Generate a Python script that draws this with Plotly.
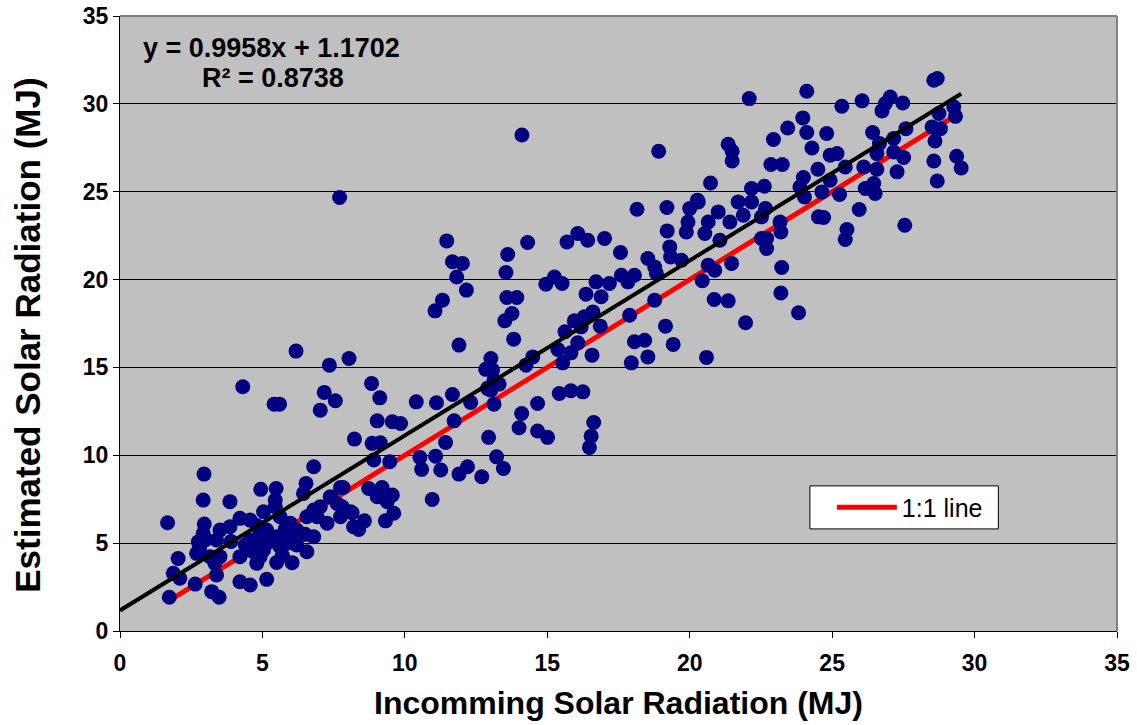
import plotly.graph_objects as go

# Observed (incoming) vs estimated solar radiation, MJ
incoming = [
    6.80, 2.95, 2.92, 3.86, 1.67, 4.94, 5.48, 6.53, 7.74, 5.45, 5.04, 4.21, 4.57, 2.96, 3.51, 3.86,
    2.92, 2.75, 2.69, 2.04, 1.87, 2.10, 1.73, 2.64, 3.22, 3.48, 3.39, 3.33, 3.51, 4.21, 4.57, 5.15,
    6.04, 6.56, 4.21, 4.80, 5.04, 5.62, 5.98, 6.21, 5.15, 4.57, 5.51, 5.86, 6.80, 6.56, 6.92, 7.27,
    7.74, 8.20, 8.09, 7.62, 7.38, 7.03, 6.44, 6.80, 3.39, 3.16, 5.62, 4.45, 4.92,
    4.90, 5.30, 5.70, 6.20, 5.00, 4.70, 6.50, 5.80, 4.40, 3.90, 5.50, 6.00, 4.80, 3.00, 2.80, 5.45,
    8.83, 9.12, 7.56, 10.40, 11.11, 11.67, 12.31, 12.90, 13.25, 13.13, 13.08, 14.66, 15.42, 14.10, 14.01, 14.66,
    15.01, 12.94, 11.73, 11.43, 9.03, 9.56, 9.85, 8.23, 8.85, 9.14, 8.91, 9.47, 10.53, 11.08, 10.59, 11.26,
    11.90, 12.20, 12.70, 13.22, 13.46, 10.96, 7.83, 8.73, 9.20, 9.56, 9.03, 9.38, 9.61, 9.32, 8.15, 8.58,
    8.38, 7.80,
    6.18, 7.35, 8.04, 4.31, 5.41, 5.60, 7.17, 7.03, 7.71,
    11.47, 11.67, 12.02, 11.82, 12.16, 11.32, 11.06, 11.90, 14.31, 13.61, 13.55, 13.58, 13.93, 13.76, 13.51, 13.82,
    15.69, 16.07, 16.42, 17.01, 17.57, 14.95, 15.25, 15.52, 16.36, 16.71, 17.18, 16.89, 17.60, 17.83, 18.06, 17.89,
    15.95, 16.30, 16.60, 16.86, 15.62, 16.19, 16.07, 15.37, 15.83, 15.54, 16.57, 18.06, 17.95, 13.02, 12.84, 14.49,
    14.25, 13.13, 13.02, 13.31, 15.83, 16.25, 16.63,
    18.15, 19.20, 20.00, 20.30, 21.00, 21.70, 19.94, 20.65, 21.41, 21.88, 22.66, 23.17, 19.21, 19.88, 20.53, 21.06,
    19.30, 19.33, 19.71, 18.53, 18.77, 18.83, 22.70, 22.70, 23.20, 21.47, 20.65, 20.88, 20.44, 23.23, 23.20, 23.82,
    20.86, 21.35, 21.96, 20.59, 18.77, 19.15, 19.42, 18.42, 18.53, 16.54, 16.48, 24.52, 22.17,
    24.11, 25.34, 26.05, 27.04, 26.87, 26.75, 27.48, 28.57, 28.69, 23.97, 23.44, 22.94, 24.11, 24.81, 24.29, 24.93,
    25.17, 22.85, 23.25, 24.50, 25.46, 22.62, 23.99, 23.87, 24.03, 24.64, 24.93, 25.26, 26.42, 26.66, 27.16, 27.59,
    26.57, 27.16, 27.51, 26.11, 26.57, 27.28, 26.16, 26.46, 26.51, 28.51, 28.80, 28.61, 28.57, 28.69, 28.75, 29.27,
    29.33, 29.37, 29.53, 24.70, 25.95, 25.52, 25.46, 27.55, 22.52,
    22.09, 18.91, 21.35, 21.49, 21.49, 20.73, 22.17, 20.27, 22.52, 14.11,
]
estimated = [
    9.35, 8.93, 7.45, 7.36, 6.16, 8.06, 8.11, 8.40, 8.17, 7.07, 6.79, 6.41, 6.31, 6.09, 5.75, 5.93,
    5.56, 5.08, 4.42, 4.13, 3.28, 3.00, 1.92, 2.67, 2.24, 1.92, 3.19, 3.85, 4.23, 2.80, 2.62, 2.94,
    3.89, 4.51, 4.23, 3.85, 4.61, 4.80, 6.13, 5.75, 5.75, 5.18, 5.36, 4.99, 5.36, 6.50, 6.50, 6.13,
    6.50, 5.93, 6.79, 7.26, 7.64, 7.07, 7.83, 6.88, 5.18, 4.23, 6.50, 4.61, 4.23,
    5.50, 5.10, 4.30, 4.90, 5.00, 4.50, 5.50, 5.80, 4.90, 5.10, 3.90, 5.30, 6.00, 5.20, 4.80, 7.45,
    14.09, 13.27, 13.10, 13.04, 12.99, 13.46, 13.01, 13.81, 14.09, 12.91, 14.85, 12.95, 13.52, 12.38, 11.57, 11.38,
    11.02, 11.02, 11.96, 10.73, 11.96, 11.91, 11.81, 10.92, 10.68, 10.71, 9.73, 9.63, 9.88, 9.95, 9.20, 9.16,
    8.93, 9.35, 8.78, 9.91, 9.25, 7.49, 8.17, 8.11, 8.17, 7.74, 7.64, 7.36, 6.70, 6.27, 6.73, 6.27,
    5.78, 7.07,
    15.93, 15.13, 15.51, 13.90, 12.91, 12.91, 13.58, 12.57, 24.67,
    22.20, 21.01, 20.92, 20.15, 19.40, 18.83, 18.22, 16.27, 22.11, 21.43, 20.40, 18.98, 18.98, 18.07, 17.65, 16.61,
    22.14, 22.62, 22.24, 22.34, 21.54, 19.74, 20.15, 19.78, 19.17, 19.87, 19.78, 19.02, 20.25, 19.87, 20.25, 17.97,
    17.65, 17.88, 18.16, 17.35, 17.03, 17.31, 16.40, 16.02, 15.83, 15.26, 15.70, 16.46, 15.26, 15.51, 14.89, 15.60,
    15.13, 14.28, 13.71, 14.05, 13.67, 13.61, 11.87,
    24.00, 24.10, 24.04, 24.42, 23.85, 24.42, 23.28, 23.28, 23.28, 23.66, 24.05, 23.28, 22.77, 22.71, 22.62, 22.24,
    21.86, 21.29, 21.10, 21.20, 20.72, 20.35, 22.34, 21.77, 22.71, 20.92, 20.82, 20.53, 19.93, 20.69, 19.24, 18.11,
    18.87, 18.79, 17.54, 15.57, 18.83, 17.35, 16.31, 16.55, 15.60, 11.09, 10.45, 23.57, 24.42,
    30.72, 29.86, 30.17, 30.39, 30.02, 29.60, 30.05, 31.34, 31.44, 29.20, 28.63, 27.97, 28.37, 28.31, 27.49, 27.08,
    27.17, 26.55, 26.55, 26.28, 26.41, 25.31, 25.81, 25.27, 24.70, 24.99, 25.65, 24.84, 28.37, 27.74, 28.03, 28.59,
    27.17, 27.26, 26.95, 26.41, 26.28, 26.13, 25.18, 25.47, 24.90, 28.69, 28.59, 27.89, 26.75, 25.61, 29.45, 29.82,
    29.29, 27.02, 26.35, 23.53, 23.99, 22.85, 22.28, 23.09, 23.57,
    30.30, 27.30, 27.70, 27.30, 26.75, 25.50, 25.18, 24.52, 22.34, 28.23,
]

# Axis ticks
tick_values = [0, 5, 10, 15, 20, 25, 30, 35]
tick_labels = ["0", "5", "10", "15", "20", "25", "30", "35"]

# Linear trendline as reported on the chart
slope = 0.9958
intercept = 1.1702
r_squared = 0.8738

x_min, x_max = min(incoming), max(incoming)
trend_x = [0, x_max]
trend_y = [intercept + slope * v for v in trend_x]
one_x = [x_min, x_max]
one_y = [x_min, x_max]

FONT = "Liberation Sans, Arial, sans-serif"
bold_ticks = ["<b>%s</b>" % t for t in tick_labels]

fig = go.Figure()
fig.add_trace(go.Scatter(x=one_x, y=one_y, mode="lines", name="1:1 line",
                         line=dict(color="#FF0000", width=5), showlegend=True))
fig.add_trace(go.Scatter(x=incoming, y=estimated, mode="markers", name="data",
                         marker=dict(color="#000080", size=15, line=dict(width=0)),
                         showlegend=False))
fig.add_trace(go.Scatter(x=trend_x, y=trend_y, mode="lines", name="trend",
                         line=dict(color="#000000", width=4), showlegend=False))

fig.update_layout(
    width=1137, height=725,
    margin=dict(l=120, r=20, t=16, b=94),
    paper_bgcolor="white", plot_bgcolor="#C0C0C0",
    font=dict(family=FONT, color="black"),
    showlegend=True,
    legend=dict(x=0.714, y=0.2008, xanchor="left", yanchor="middle",
                bgcolor="rgba(0,0,0,0)", borderwidth=0,
                font=dict(size=25, family=FONT), itemwidth=60),
    xaxis=dict(range=[0, 35], tickmode="array", tickvals=tick_values, ticktext=bold_ticks,
               showgrid=False, zeroline=False, automargin=False,
               showline=True, linecolor="black", linewidth=1,
               ticks="outside", ticklen=6, tickcolor="black",
               ticklabeloverflow="allow", ticklabelstandoff=5,
               tickfont=dict(size=23, family=FONT)),
    yaxis=dict(range=[0, 35], tickmode="array", tickvals=tick_values, ticktext=bold_ticks,
               showgrid=True, gridcolor="black", gridwidth=1, automargin=False,
               zeroline=False, showline=True, linecolor="black", linewidth=1,
               ticks="outside", ticklen=6, tickcolor="black",
               ticklabeloverflow="allow",
               tickfont=dict(size=23, family=FONT)),
    shapes=[
        dict(type="line", xref="paper", yref="paper", x0=0, x1=1, y0=1, y1=1,
             line=dict(color="#808080", width=2)),
        dict(type="line", xref="paper", yref="paper", x0=1, x1=1, y0=0, y1=1,
             line=dict(color="#808080", width=2)),
        # legend frame
        dict(type="rect", xref="paper", yref="paper", x0=0.692, x1=0.881, y0=0.166, y1=0.236,
             fillcolor="white", line=dict(color="black", width=1), layer="above"),
    ],
    annotations=[
        dict(x=0.73, y=33.16, xref="x", yref="y", xanchor="left", yanchor="middle",
             text=f"<b>y = {slope:.4f}x + {intercept:.4f}</b>", showarrow=False,
             font=dict(size=27, family=FONT)),
        dict(x=2.8, y=31.46, xref="x", yref="y", xanchor="left", yanchor="middle",
             text=f"<b>R² = {r_squared:.4f}</b>", showarrow=False,
             font=dict(size=27, family=FONT)),
        # axis titles
        dict(x=0.5, y=0, xref="paper", yref="paper", xanchor="center", yanchor="middle",
             yshift=-72, text="<b>Incomming Solar Radiation (MJ)</b>", showarrow=False,
             font=dict(size=32, family=FONT)),
        dict(x=0, y=0.48, xref="paper", yref="paper", xanchor="center", yanchor="middle",
             xshift=-92, textangle=-90, text="<b>Estimated Solar Radiation (MJ)</b>",
             showarrow=False, font=dict(size=35, family=FONT)),
    ],
)

# remove the default 8px page margin so the figure fills the window exactly
fig.write_html("out.html", config={"displayModeBar": False},
               post_script="document.body.style.margin='0';")
